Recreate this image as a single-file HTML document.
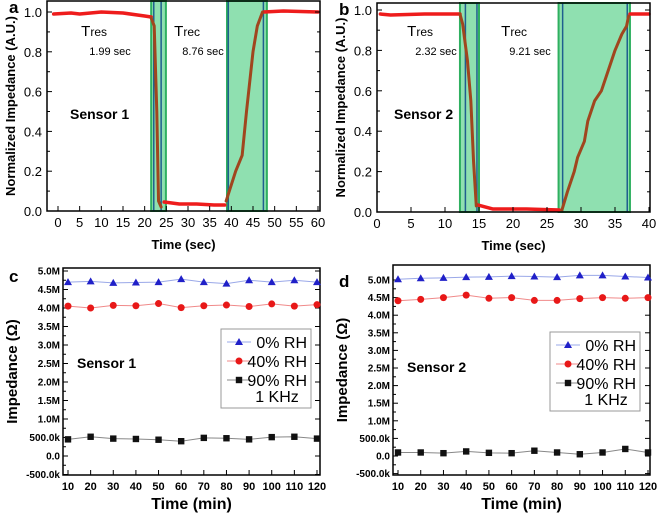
<!DOCTYPE html>
<html><head><meta charset="utf-8"><style>
body{margin:0;background:#fff;}
svg{display:block;font-family:"Liberation Sans",Arial,sans-serif;}
</style></head><body>
<svg id="fig" width="658" height="516" viewBox="0 0 658 516"></svg>
<script>
// ---- Data ----
const aRed1=[[-1,0.99],[3,0.995],[5,0.99],[10,1.0],[15,0.995],[20,0.98],[21.5,0.975]];
const aDrop=[[21.5,0.97],[22.2,0.93],[22.8,0.5],[23.2,0.05],[23.8,0.02]];
const aRed2=[[24.5,0.045],[28,0.035],[32,0.035],[36,0.03],[38.5,0.03]];
const aRise=[[38.8,0.05],[41,0.2],[42.5,0.28],[43.5,0.5],[45,0.8],[46,0.93],[47.2,1.0]];
const aRed3=[[47.5,1.0],[52,1.005],[60,1.0]];
const bRed1=[[0.5,0.98],[2,0.975],[7,0.98],[12.2,0.98]];
const bDrop=[[12.2,0.98],[12.6,0.93],[13.3,0.75],[13.8,0.55],[14.2,0.25],[14.6,0.03]];
const bRed2=[[14.8,0.035],[17,0.015],[22,0.015],[26.8,0.01]];
const bRise=[[27.2,0.01],[28,0.1],[29,0.2],[29.5,0.27],[30.5,0.35],[31,0.45],[32,0.55],[33,0.6],[34,0.7],[35,0.8],[36,0.88],[36.7,0.92],[37,0.97]];
const bRed3=[[37.2,0.98],[40,0.98]];
const timesMin=[10,20,30,40,50,60,70,80,90,100,110,120];
const c0=[4.7,4.72,4.68,4.69,4.7,4.78,4.7,4.66,4.75,4.7,4.75,4.7];
const c40=[4.05,4.0,4.07,4.06,4.12,4.01,4.06,4.08,4.04,4.11,4.05,4.09];
const c90=[0.45,0.52,0.47,0.46,0.44,0.4,0.49,0.48,0.45,0.51,0.52,0.47];
const d0=[5.02,5.05,5.06,5.08,5.09,5.11,5.1,5.08,5.13,5.13,5.1,5.07];
const d40=[4.41,4.45,4.5,4.57,4.48,4.5,4.42,4.42,4.47,4.5,4.48,4.5];
const d90=[0.1,0.1,0.08,0.13,0.09,0.08,0.15,0.1,0.05,0.1,0.2,0.1];
const impTicks=["-500.0k","0.0","500.0k","1.0M","1.5M","2.0M","2.5M","3.0M","3.5M","4.0M","4.5M","5.0M"];

const NS="http://www.w3.org/2000/svg";
const svg=document.getElementById('fig');
function el(tag,attrs,parent){const e=document.createElementNS(NS,tag);for(const k in attrs)e.setAttribute(k,attrs[k]);(parent||svg).appendChild(e);return e;}
function txt(x,y,s,attrs,name){const t=el('text',Object.assign({x:x,y:y},attrs));t.textContent=s;

return t;}
function lin(d0,d1,r0,r1){return v=>r0+(v-d0)/(d1-d0)*(r1-r0);}

function respPanel(o){
  const X=lin(o.xd[0],o.xd[1],o.xr[0],o.xr[1]), Y=lin(0,1,o.yr[0],o.yr[1]);
  const g=el('g',{});
  
  
  o.windows.forEach((w,i)=>{
    const r=el('rect',{x:X(w[0]),y:o.top,width:X(w[1])-X(w[0]),height:o.bottom-o.top,fill:'#8fe0b0',stroke:'#2fb060','stroke-width':2},g);
    
    
    [w[2],w[3]].forEach(t=>el('line',{x1:X(t),x2:X(t),y1:o.top,y2:o.bottom,stroke:'#1f5f8f','stroke-width':1.5},g));
  });
  const path=(pts,col,w,nm)=>{const p=el('polyline',{points:pts.map(p=>X(p[0])+','+Y(p[1])).join(' '),fill:'none',stroke:col,'stroke-width':w,'stroke-linejoin':'round','stroke-linecap':'round'},g);
    
    };
  o.red.forEach((s,i)=>path(s,'#ee1c1c',3.5,'baseline-segment-'+(i+1)));
  o.brown.forEach((s,i)=>path(s,'#a0461e',3,'transition-curve-'+(i+1)));
  const L=o.xr[0]-o.padL;
  const b=el('rect',{x:L,y:o.top,width:o.right-L,height:o.bottom-o.top,fill:'none',stroke:'#000','stroke-width':1.5},g);
  
  
  for(let v=0;v<=1.0001;v+=0.1){const y=Y(v);const big=Math.round(v*10)%2==0;
    el('line',{x1:L,x2:L+(big?5:3),y1:y,y2:y,stroke:'#000'},g);el('line',{x1:o.right,x2:o.right-(big?5:3),y1:y,y2:y,stroke:'#000'},g);
    if(big)txt(L-5,y+5,v.toFixed(1),{'font-size':13,'text-anchor':'end'},'y-tick-label');}
  o.xticks.forEach(t=>{const x=X(t);el('line',{x1:x,x2:x,y1:o.bottom,y2:o.bottom-5,stroke:'#000'},g);
    txt(x,o.bottom+16,String(t),{'font-size':13,'text-anchor':'middle'},'x-tick-label');});
  txt((L+o.right)/2,o.bottom+38,'Time (sec)',{'font-size':13,'font-weight':'bold','text-anchor':'middle'},'x-axis-title');
  txt(0,0,'Normalized Impedance (A.U.)',{'font-size':13,'font-weight':'bold','text-anchor':'middle',transform:`translate(${L-32},${(o.top+o.bottom)/2}) rotate(-90)`},'y-axis-title');
  txt(L-38,o.top+12,o.letter,{'font-size':17,'font-weight':'bold'},'panel-label');
  txt(o.t1x,36,'T',{'font-size':15,'text-anchor':'end'},'tres-label').innerHTML='T<tspan font-size="12">res</tspan>';
  txt(o.t1x+3,55,o.t1v,{'font-size':11,'text-anchor':'middle'},'tres-value');
  txt(o.t2x,36,'T',{'font-size':15,'text-anchor':'end'},'trec-label').innerHTML='T<tspan font-size="12">rec</tspan>';
  txt(o.t2x+3,55,o.t2v,{'font-size':11,'text-anchor':'middle'},'trec-value');
  txt(o.sx,119,o.sensor,{'font-size':14,'font-weight':'bold'},'sensor-label');
}
respPanel({name:'panel-a',letter:'a',xd:[0,60],xr:[58,318],yr:[211,12],padL:11,right:320,top:1,bottom:211,
  windows:[[21.5,24.9,22.1,23.8],[39,48.2,39.3,47.4]],red:[aRed1,aRed2,aRed3],brown:[aDrop,aRise],
  xticks:[0,5,10,15,20,25,30,35,40,45,50,55,60],t1x:107,t1v:'1.99 sec',t2x:200,t2v:'8.76 sec',sx:70,sensor:'Sensor 1'});
respPanel({name:'panel-b',letter:'b',xd:[0,40],xr:[377,649],yr:[212,10],padL:0,right:650,top:3,bottom:212,
  windows:[[12.2,15.0,13.0,14.7],[26.7,37.2,27.3,36.8]],red:[bRed1,bRed2,bRed3],brown:[bDrop,bRise],
  xticks:[0,5,10,15,20,25,30,35,40],t1x:433,t1v:'2.32 sec',t2x:527,t2v:'9.21 sec',sx:394,sensor:'Sensor 2'});

function impPanel(o){
  const X=lin(10,120,o.x10,o.x120), Y=lin(0,5,o.y0,o.y5);
  const g=el('g',{});
  
  
  const fr=el('rect',{x:o.L,y:o.top,width:o.R-o.L,height:o.bottom-o.top,fill:'none',stroke:'#000','stroke-width':1.5},g);
  
  
  impTicks.forEach((s,i)=>{const v=-0.5+i*0.5,y=Y(v);
    el('line',{x1:o.L,x2:o.L+5,y1:y,y2:y,stroke:'#000'},g);el('line',{x1:o.R,x2:o.R-5,y1:y,y2:y,stroke:'#000'},g);
    if(i<impTicks.length-1)el('line',{x1:o.L,x2:o.L+3,y1:Y(v+0.25),y2:Y(v+0.25),stroke:'#000'},g);
    txt(o.L-3,y+3.5,s,{'font-size':10,'font-weight':'bold','text-anchor':'end'},'y-tick-label');});
  timesMin.forEach(t=>{const x=X(t);el('line',{x1:x,x2:x,y1:o.bottom,y2:o.bottom-5,stroke:'#000'},g);
    txt(x,o.bottom+15,String(t),{'font-size':11,'font-weight':'bold','text-anchor':'middle'},'x-tick-label');});
  const series=[[o.s0,'#2020c8','#9aa8e8','tri','0% RH'],[o.s40,'#e81818','#f08a8a','circ','40% RH'],[o.s90,'#111','#888','sq','90% RH']];
  const marker=(x,y,type,col,nm)=>{let m;
    if(type=='tri')m=el('polygon',{points:`${x},${y-4} ${x-4},${y+3} ${x+4},${y+3}`,fill:col},g);
    else if(type=='circ')m=el('circle',{cx:x,cy:y,r:3.5,fill:col},g);
    else m=el('rect',{x:x-3.2,y:y-3.2,width:6.4,height:6.4,fill:col},g);
    
    };
  series.forEach(s=>{
    const pl=el('polyline',{points:s[0].map((v,i)=>X(timesMin[i])+','+Y(v)).join(' '),fill:'none',stroke:s[2],'stroke-width':1},g);
    
    
    s[0].forEach((v,i)=>marker(X(timesMin[i]),Y(v),s[3],s[1],'data-point'));
  });
  const lg=el('g',{},g);
  
  
  el('rect',{x:o.lx,y:o.ly,width:90,height:79,fill:'#fff',stroke:'#999','stroke-width':1},lg);
  series.forEach((s,i)=>{const y=o.ly+13+i*19;
    el('line',{x1:o.lx+6,x2:o.lx+30,y1:y,y2:y,stroke:s[2]},lg);marker(o.lx+18,y,s[3],s[1],'legend-marker');
    txt(o.lx+86,y+6,s[4],{'font-size':16,'text-anchor':'end'},'legend-entry');});
  txt(o.lx+56,o.ly+73,'1 KHz',{'font-size':16,'text-anchor':'middle'},'legend-frequency');
  txt((o.L+o.R)/2,o.bottom+34,'Time (min)',{'font-size':16,'font-weight':'bold','text-anchor':'middle'},'x-axis-title');
  txt(0,0,'Impedance (Ω)',{'font-size':15,'font-weight':'bold','text-anchor':'middle',transform:`translate(${o.L-46},${(o.top+o.bottom)/2}) rotate(-90)`},'y-axis-title');
  txt(o.L-54,o.top+(o.letter=='c'?14:22),o.letter,{'font-size':17,'font-weight':'bold'},'panel-label');
  txt(o.sx,o.sy,o.sensor,{'font-size':14,'font-weight':'bold'},'sensor-label');
}
impPanel({name:'panel-c',letter:'c',L:63,R:320,top:268,bottom:475,x10:68,x120:317,y0:456,y5:271,s0:c0,s40:c40,s90:c90,lx:221,ly:329,sx:77,sy:368,sensor:'Sensor 1'});
impPanel({name:'panel-d',letter:'d',L:393,R:650,top:265,bottom:475,x10:398,x120:648,y0:456,y5:280,s0:d0,s40:d40,s90:d90,lx:550,ly:332,sx:407,sy:372,sensor:'Sensor 2'});
</script>
</body></html>
